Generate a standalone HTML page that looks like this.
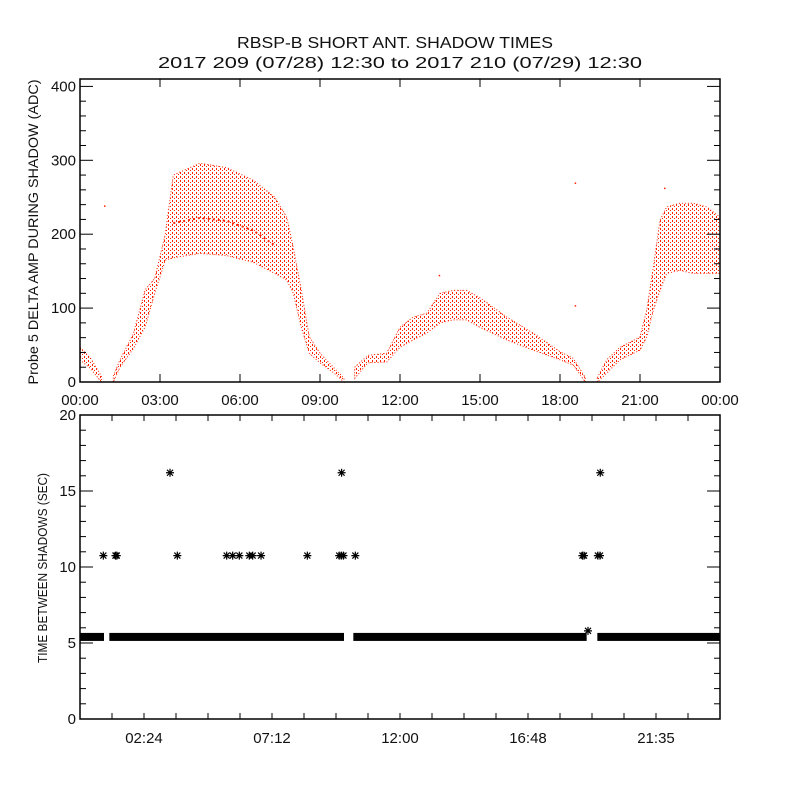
<!DOCTYPE html>
<html><head><meta charset="utf-8"><style>
html,body{margin:0;padding:0;background:#fff;}
svg{display:block;font-family:"Liberation Sans",sans-serif;}
text{fill:#111;}
</style></head><body>
<svg id="chart" width="800" height="800" viewBox="0 0 800 800" xmlns="http://www.w3.org/2000/svg">
<defs>
<pattern id="dots" width="4" height="4" patternUnits="userSpaceOnUse"><rect x="0" y="0" width="1" height="2" fill="#ff2200"/><rect x="2" y="2" width="1" height="1" fill="#ff2200"/></pattern>
</defs>
<text x="395" y="48" text-anchor="middle" font-size="16" textLength="316" lengthAdjust="spacingAndGlyphs">RBSP-B SHORT ANT. SHADOW TIMES</text>
<text x="400" y="68" text-anchor="middle" font-size="16" textLength="484" lengthAdjust="spacingAndGlyphs">2017 209 (07/28) 12:30 to 2017 210 (07/29) 12:30</text>
<g id="topPanel"></g>
<g id="botPanel"></g>
<text transform="translate(38,232) rotate(-90)" text-anchor="middle" font-size="14" textLength="305" lengthAdjust="spacingAndGlyphs">Probe 5 DELTA AMP DURING SHADOW (ADC)</text>
<text transform="translate(47,568) rotate(-90)" text-anchor="middle" font-size="13" textLength="190" lengthAdjust="spacingAndGlyphs">TIME BETWEEN SHADOWS (SEC)</text>
</svg>
<script>
// ---- top panel data (hours, ADC) ----
const bandSegments = [
 {t:[0,0.4,0.8], lo:[30,18,0], hi:[47,32,8]},
 {t:[1.25,1.5,2.0,2.45,2.8,3.2,3.5,4.5,5.5,6.5,7.3,7.75,8.0,8.3,8.6,9.0,9.5,9.9],
  lo:[0,20,45,75,120,165,168,174,171,162,147,138,120,74,39,26,13,0],
  hi:[8,30,65,125,140,200,280,296,290,273,250,223,182,124,61,39,20,5]},
 {t:[10.3,10.8,11.5,12,12.5,13,13.5,14,14.5,15,16,17,18,18.5,18.95],
  lo:[5,26,27,47,57,66,80,84,84,74,57,43,30,23,0],
  hi:[20,36,39,74,88,93,120,124,124,114,88,66,41,32,6]},
 {t:[19.4,19.75,20.25,21,21.25,21.5,21.75,22,22.5,23,23.5,24],
  lo:[0,12,30,43,61,97,124,147,151,147,147,147],
  hi:[6,30,47,61,97,155,219,237,242,242,237,223]}
];
const midT = [3.5,4.5,5.5,6.5,7.3];
const midV = [215,222,218,205,185];
const outT = [0.9,18.55,18.55,21.9,13.45];
const outV = [239,270,104,263,145];
// ---- bottom panel data (hours, seconds) ----
const baseStart = [0,1.1,10.25,19.4];
const baseEnd = [0.9,9.9,19.0,24];
const baseValue = [5.4,5.4,5.4,5.4];
const starT = [0.875,1.33,1.38,3.375,3.65,5.5,5.725,5.975,6.35,6.475,6.79,8.525,9.72,9.8,9.88,9.81,10.325,18.84,18.9,19.05,19.42,19.5,19.51];
const starV = [10.75,10.75,10.75,16.2,10.75,10.75,10.75,10.75,10.75,10.75,10.75,10.75,10.75,10.75,10.75,16.2,10.75,10.75,10.75,5.8,10.75,10.75,16.2];
const topYTicks = [0,100,200,300,400];
const topXTicks = ["00:00","03:00","06:00","09:00","12:00","15:00","18:00","21:00","00:00"];
const botYTicks = [0,5,10,15,20];
const botXLabels = ["02:24","07:12","12:00","16:48","21:35"];

const NS="http://www.w3.org/2000/svg";
const L=80,R=720;
const xs=t=>L+(t/24)*(R-L);
const T0=382,T1=79,TMAX=410;
const ty=v=>T0-(v/TMAX)*(T0-T1);
const B0=719,B1=415;
const by=v=>B0-(v/20)*(B0-B1);
function mk(tag,attrs,parent){const e=document.createElementNS(NS,tag);for(const k in attrs)e.setAttribute(k,attrs[k]);parent.appendChild(e);return e;}
const topG=document.getElementById('topPanel'), botG=document.getElementById('botPanel');

bandSegments.forEach((s,i)=>{
  let pts=[];
  s.t.forEach((t,j)=>pts.push(xs(t).toFixed(1)+','+ty(s.hi[j]).toFixed(1)));
  for(let j=s.t.length-1;j>=0;j--)pts.push(xs(s.t[j]).toFixed(1)+','+ty(s.lo[j]).toFixed(1));
  const p=mk('polygon',{points:pts.join(' '),fill:'url(#dots)',stroke:'#ff2200','stroke-width':'1','stroke-dasharray':'1 2'},topG);
  
  
});
let mp=midT.map((t,j)=>xs(t).toFixed(1)+','+ty(midV[j]).toFixed(1)).join(' ');
const ml=mk('polyline',{points:mp,fill:'none',stroke:'#ff2200','stroke-width':'2','stroke-dasharray':'2 3'},topG);


outT.forEach((t,j)=>{
  const r=mk('rect',{x:xs(t),y:ty(outV[j]),width:1.5,height:1.5,fill:'#ff2200'},topG);
  
  
});

function frame(g,yTop,yBot,name){
  const r=mk('rect',{x:L,y:yTop,width:R-L,height:yBot-yTop,fill:'none',stroke:'#000','stroke-width':'1.5'},g);
  
  
}
frame(topG,T1,T0,'top-plot-frame');
for(let v=0;v<=TMAX;v+=20){
  const len=(v%100===0)?13:6;
  mk('line',{x1:L,x2:L+len,y1:ty(v),y2:ty(v),stroke:'#000'},topG);
  mk('line',{x1:R,x2:R-len,y1:ty(v),y2:ty(v),stroke:'#000'},topG);
}
topYTicks.forEach(v=>{
  const tx=mk('text',{x:76,y:ty(v)+5,'text-anchor':'end','font-size':'15'},topG);tx.textContent=v;
  
  
});
topXTicks.forEach((lab,i)=>{
  const x=xs(i*3);
  mk('line',{x1:x,x2:x,y1:T0,y2:T0-8,stroke:'#000'},topG);
  mk('line',{x1:x,x2:x,y1:T1,y2:T1+8,stroke:'#000'},topG);
  const tx=mk('text',{x:x,y:405,'text-anchor':'middle','font-size':'15'},topG);tx.textContent=lab;
  
  
});

baseStart.forEach((s,i)=>{
  const x0=Math.max(L,xs(s)), x1=Math.min(R,xs(baseEnd[i]));
  const r=mk('rect',{x:x0,y:by(baseValue[i])-4,width:x1-x0,height:8,fill:'#000'},botG);
  
  
});
starT.forEach((t,j)=>{
  const x=xs(t),y=by(starV[j]),s=4;
  const d=`M${x-s},${y}H${x+s}M${x},${y-s}V${y+s}M${x-3},${y-3}L${x+3},${y+3}M${x-3},${y+3}L${x+3},${y-3}`;
  const p=mk('path',{d:d,stroke:'#000','stroke-width':'1.2',fill:'none'},botG);
  
  
});
frame(botG,B1,B0,'bottom-plot-frame');
for(let v=0;v<=20;v++){
  const len=(v%5===0)?13:6;
  mk('line',{x1:L,x2:L+len,y1:by(v),y2:by(v),stroke:'#000'},botG);
  mk('line',{x1:R,x2:R-len,y1:by(v),y2:by(v),stroke:'#000'},botG);
}
botYTicks.forEach(v=>{
  const tx=mk('text',{x:76,y:by(v)+5,'text-anchor':'end','font-size':'15'},botG);tx.textContent=v;
  
  
});
for(let i=1;i<20;i++){
  const x=xs(i*1.2);
  mk('line',{x1:x,x2:x,y1:B0,y2:B0-6,stroke:'#000'},botG);
  mk('line',{x1:x,x2:x,y1:B1,y2:B1+6,stroke:'#000'},botG);
}
botXLabels.forEach((lab,i)=>{
  const tx=mk('text',{x:xs(2.4+i*4.8),y:743,'text-anchor':'middle','font-size':'15'},botG);tx.textContent=lab;
  
  
});
</script>
</body></html>
